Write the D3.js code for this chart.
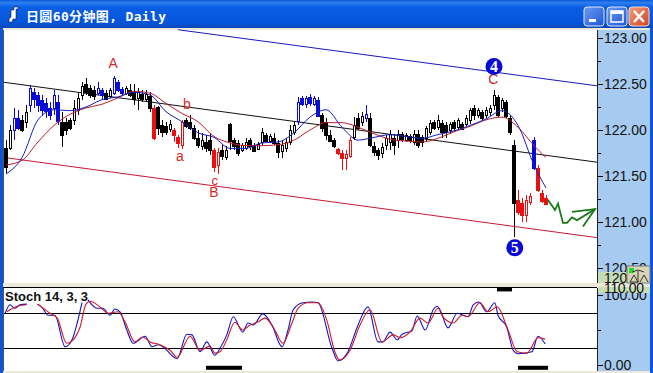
<!DOCTYPE html>
<html>
<head>
<meta charset="utf-8">
<script src="https://cdn.jsdelivr.net/npm/d3@7"></script>
<style>
html, body { margin: 0; padding: 0; background: #fff; overflow: hidden; }
svg { display: block; }
</style>
</head>
<body>
<svg id="chart" width="653" height="373"></svg>
<script>
const titleText = "日圆60分钟图, Daily";
const stochText = "Stoch 14, 3, 3";
const priceTicks = [123, 122.5, 122, 121.5, 121, 120.5];
const priceMinor = [122.75, 122.25, 121.75, 121.25, 120.75];
const stochTicks = [100, 0];
const stochLevels = [75, 25];

const highs = [121.89,122.05,122.24,122.22,122.16,122.27,122.49,122.46,122.41,122.38,
122.35,122.30,122.43,122.38,122.20,122.13,122.13,122.33,122.41,122.52,
122.57,122.49,122.48,122.52,122.46,122.43,122.46,122.59,122.54,122.47,
122.48,122.50,122.50,122.46,122.43,122.43,122.41,122.27,122.26,122.11,
122.09,122.11,122.02,121.95,122.11,122.13,122.16,122.05,122.00,121.97,
121.95,121.97,121.80,121.80,121.84,121.83,122.08,121.91,121.89,121.86,
121.91,121.91,121.86,121.87,122.02,121.97,121.96,121.97,121.89,121.89,
121.91,122.05,122.09,122.36,122.37,122.37,122.39,122.37,122.36,122.18,
122.13,122.00,121.91,121.80,121.78,121.78,121.92,122.14,122.18,122.20,
122.27,122.18,121.87,121.80,121.86,121.95,122.00,121.95,122.00,121.98,
121.97,121.96,122.00,122.00,121.95,122.04,122.11,122.11,122.16,122.11,
122.09,122.09,122.11,122.13,122.09,122.16,122.24,122.27,122.24,122.22,
122.25,122.27,122.43,122.38,122.35,122.33,122.16,121.89,121.35,121.26,
121.29,121.32,121.92,121.62,121.35,121.29];
const lows = [121.53,121.78,121.89,122.00,121.98,122.02,122.20,122.24,122.20,122.15,
122.13,122.11,122.16,122.05,121.82,121.95,122.00,122.05,122.16,122.33,
122.38,122.35,122.33,122.38,122.33,122.33,122.35,122.38,122.41,122.38,
122.38,122.36,122.27,122.22,122.30,122.30,122.20,121.89,121.95,121.92,
121.95,121.98,121.87,121.80,121.79,122.02,122.00,121.89,121.80,121.78,
121.76,121.73,121.54,121.52,121.67,121.67,121.78,121.78,121.72,121.76,
121.78,121.78,121.76,121.78,121.84,121.87,121.86,121.84,121.70,121.70,
121.76,121.84,121.95,122.05,122.26,122.24,122.26,122.26,122.14,121.98,
121.89,121.87,121.80,121.73,121.57,121.57,121.70,121.89,122.00,122.04,
122.09,121.82,121.72,121.67,121.70,121.78,121.78,121.73,121.80,121.87,
121.87,121.86,121.84,121.80,121.82,121.87,121.95,122.00,122.00,121.91,
121.91,121.96,121.98,122.00,122.00,122.04,122.07,122.11,122.13,122.11,
122.13,122.15,122.22,122.14,122.20,122.13,121.95,120.84,121.08,121.00,
121.00,121.18,121.57,121.33,121.21,121.18];
const opens = [121.80,121.80,122.00,122.13,122.11,122.09,122.27,122.41,122.38,122.33,
122.29,122.24,122.24,122.30,122.09,122.09,122.11,122.11,122.22,122.38,
122.50,122.46,122.43,122.41,122.43,122.40,122.37,122.41,122.52,122.45,
122.41,122.43,122.41,122.35,122.39,122.34,122.37,122.24,122.25,122.05,
122.04,122.02,122.00,121.92,121.84,122.11,122.09,122.02,121.91,121.83,
121.87,121.89,121.78,121.62,121.78,121.70,122.07,121.89,121.86,121.79,
121.80,121.89,121.84,121.80,121.87,121.95,121.88,121.91,121.86,121.78,
121.80,121.87,121.97,122.09,122.35,122.28,122.36,122.29,122.33,122.16,
122.09,121.95,121.89,121.79,121.75,121.70,121.72,121.92,122.13,122.09,
122.13,122.13,121.83,121.78,121.76,121.83,121.87,121.91,121.89,121.96,
121.90,121.93,121.87,121.96,121.92,121.91,121.98,122.09,122.03,122.08,
122.05,122.00,122.09,122.03,122.07,122.07,122.11,122.24,122.17,122.20,
122.17,122.20,122.27,122.36,122.24,122.30,122.13,121.84,121.24,121.21,
121.08,121.21,121.89,121.59,121.32,121.26];
const closes = [121.59,122.00,122.13,122.02,122.00,122.20,122.46,122.33,122.27,122.22,
122.20,122.16,122.38,122.09,121.95,122.00,122.02,122.24,122.35,122.48,
122.41,122.38,122.36,122.46,122.38,122.34,122.43,122.57,122.43,122.41,
122.46,122.38,122.33,122.41,122.34,122.39,122.24,121.91,122.02,121.97,
121.98,122.07,121.95,121.85,122.09,122.04,122.03,121.91,121.83,121.89,
121.80,121.78,121.59,121.76,121.71,121.78,121.89,121.83,121.75,121.84,
121.87,121.83,121.78,121.85,121.98,121.89,121.93,121.86,121.76,121.84,
121.87,122.00,122.05,122.30,122.29,122.35,122.30,122.35,122.16,122.02,
121.95,121.89,121.82,121.75,121.70,121.74,121.89,122.05,122.02,122.15,
122.17,121.84,121.76,121.73,121.82,121.91,121.96,121.83,121.96,121.91,
121.95,121.89,121.96,121.84,121.87,122.02,122.08,122.03,122.11,121.98,
121.97,122.07,122.02,122.11,122.02,122.13,122.22,122.16,122.22,122.14,
122.22,122.24,122.38,122.16,122.33,122.15,121.98,121.21,121.11,121.08,
121.24,121.28,121.59,121.35,121.23,121.20];
const blueBars = [2,3,6,7,8,9,10,11,12,13,23,24,27,28,29,73,74,75,76,77,78,90,132];
const redBars = [37,42,43,44,52,53,83,84,85,86,128,129,130,131,133,134,135];

// moving averages
const maBars = [0,4,8,12,16,20,24,28,32,36,40,44,48,52,56,60,64,68,72,76,80,84,88,92,96,100,104,108,112,116,120,124,128,132,135];
const blueMa = [121.52,121.70,122.11,122.22,122.21,122.25,122.33,122.36,122.41,122.38,122.20,122.09,121.97,121.92,121.80,121.80,121.86,121.87,121.97,122.14,122.22,122.03,121.89,121.92,121.95,121.93,121.91,121.95,121.99,122.05,122.12,122.21,122.05,121.62,121.37];
const redMa = [121.62,121.67,121.87,122.05,122.17,122.24,122.28,122.35,122.42,122.40,122.29,122.18,122.09,121.93,121.86,121.83,121.83,121.84,121.89,122.00,122.08,122.08,122.03,121.96,121.90,121.88,121.87,121.91,121.98,122.04,122.11,122.14,122.03,121.83,121.70];

// channel lines [bar, price, bar, price]
const blackChannel = [-0.75, 122.52, 147.75, 121.65];
const blueChannel = [43, 123.09, 147.75, 122.48];
const redChannel = [-0.25, 121.70, 147.75, 120.83];

const waveLabels = [
  { t: "A", bar: 26.8, p: 122.67, s: 14 }, { t: "a", bar: 43.5, p: 121.66, s: 14 },
  { t: "b", bar: 45.2, p: 122.23, s: 14 }, { t: "c", bar: 52.2, p: 121.40, s: 13 },
  { t: "B", bar: 52, p: 121.27, s: 14 }, { t: "C", bar: 121.8, p: 122.50, s: 14 }
];
const waveCircles = [{ t: "4", bar: 122, p: 122.69 }, { t: "5", bar: 127.2, p: 120.72 }];

const arrowPath = [[135.5,121.24],[137.25,121.13],[138,121.20],[139.25,120.99],[140.25,120.99],[141.5,121.05],[142.75,121.02],[147.25,121.14]];
const arrowHead = [[141.5,121.11],[147.25,121.14],[144.25,120.95]];

const stochK = [[-0.2,74],[1,86],[2.2,81],[3.5,86],[5.2,87],null,[7.8,87],[9.2,81],[10.5,71],[12.2,71],[14.8,26],[16.5,36],[17.8,60],[19,89],null,[20.5,93],[22.8,81],[24.2,81],[26,71],[27.2,80],[28.5,76],[30.2,50],[31.8,31],[34.8,41],[36.5,26],[38,29],[39.2,26],[42.8,9],[45.2,44],[46.5,43],[48.5,19],[50.2,33],[52.2,14],[53.5,24],[55.2,43],[56.8,69],[59.2,47],[60.5,60],[61.8,57],[64.2,73],[66.5,57],[69,26],[70.5,50],[71.8,79],[74.2,89],[76.5,90],[78,89],[81.5,24],[83,6],[85.5,19],[87.8,54],[90.5,83],[93,33],[94.2,33],[96,47],[97.8,36],[99,44],[101.5,49],[102.8,70],[104.8,50],[106.8,79],[107.8,84],[108.5,79],[110.5,53],[112.8,74],[115.5,69],[116.8,86],[118.2,90],[120.2,76],[122.2,89],[123,71],[125.2,54],[126.8,21],[128,16],[131.5,19],[133,41],[134.8,30]];
const stochD = [[0.2,76],[2.8,84],[5.2,86],null,[8,87],[11,74],[12.8,67],[15.2,31],[16.8,36],[18.5,54],[20,87],[21,91],[23.5,83],[25.5,74],[28,76],[29.8,61],[32.2,33],[34.2,40],[36,33],[38.5,29],[41,21],[42.8,11],[46,41],[48.5,21],[51,27],[52.2,17],[53.5,19],[55.2,36],[57.2,61],[59.2,50],[61,57],[62.8,61],[64.8,67],[67.2,50],[69.2,31],[71.5,60],[73,81],[75.5,89],[78,89],[80.2,64],[82.2,19],[83.5,7],[86,21],[88.5,57],[91,79],[94,33],[96.8,43],[98.5,39],[101,47],[103.5,67],[105.5,60],[108,81],[109.2,69],[111.8,60],[114,71],[115.5,69],[118.5,89],[120.5,76],[122.8,83],[125.5,50],[127.8,19],[130.2,17],[133,39],[134.8,37]];
// [first bar, last bar, stoch value] black marks in the indicator panel
const stochMarks = [[50,59,-4],[128,135.5,-4],[122.75,126.5,108]];

const svg = d3.select("#chart");
const W = 653, H = 373, plotRight = 597;

const x = d3.scaleLinear().domain([0, 135]).range([6, 546]);
const y = d3.scaleLinear().domain([123, 120.5]).range([38, 268]);
const yS = d3.scaleLinear().domain([100, 0]).range([295, 365]);

const defs = svg.append("defs");
const grad = defs.append("linearGradient").attr("id", "titleGrad").attr("x1", 0).attr("x2", 0).attr("y1", 0).attr("y2", 1);
[[0, "#0a5ad8"], [0.1, "#2f80ee"], [0.25, "#0b5fe4"], [0.8, "#0654da"], [1, "#0a48b8"]].forEach(d => grad.append("stop").attr("offset", d[0]).attr("stop-color", d[1]));
const btn = defs.append("linearGradient").attr("id", "btnGrad").attr("x1", 0).attr("x2", 1).attr("y1", 0).attr("y2", 1);
btn.append("stop").attr("offset", 0).attr("stop-color", "#6d9cf0");
btn.append("stop").attr("offset", 1).attr("stop-color", "#1c55d8");
const btnR = defs.append("linearGradient").attr("id", "btnRed").attr("x1", 0).attr("x2", 1).attr("y1", 0).attr("y2", 1);
btnR.append("stop").attr("offset", 0).attr("stop-color", "#f0a080");
btnR.append("stop").attr("offset", 1).attr("stop-color", "#d8401c");
defs.append("clipPath").attr("id", "mainClip").append("rect").attr("x", 4).attr("y", 29).attr("width", plotRight - 4).attr("height", 254);

// window frame
svg.append("rect").attr("width", W).attr("height", H).attr("fill", "#fff");
svg.append("rect").attr("width", W).attr("height", 28).attr("fill", "url(#titleGrad)");
svg.append("rect").attr("x", 0).attr("y", 28).attr("width", 3).attr("height", H - 28).attr("fill", "#0a55dc");
svg.append("rect").attr("x", 650).attr("y", 28).attr("width", 3).attr("height", H - 28).attr("fill", "#0a55dc");
svg.append("rect").attr("x", 3).attr("y", 28).attr("width", 647).attr("height", 2).attr("fill", "#ece9d8");
svg.append("rect").attr("x", 3).attr("y", 30).attr("width", 1).attr("height", 253).attr("fill", "#555");

// title bar
svg.append("path").attr("d", "M11 10h3v-3h4v2h-2v10h-3l-1 3h-3v-3l2-2v-7z").attr("fill", "#fff").attr("stroke", "#111").attr("stroke-width", 0.5);
svg.append("text").attr("x", 26).attr("y", 21).attr("fill", "#fff").attr("textLength", 140).style("font-family", "'DejaVu Sans Mono','Noto Sans CJK SC'").style("font-weight", 700).style("font-size", "13px").text(titleText);
[584, 607].forEach(bx => svg.append("rect").attr("x", bx).attr("y", 7).attr("width", 20).attr("height", 19).attr("rx", 3).attr("fill", "url(#btnGrad)").attr("stroke", "#dfe8fa"));
svg.append("rect").attr("x", 629).attr("y", 7).attr("width", 20).attr("height", 19).attr("rx", 3).attr("fill", "url(#btnRed)").attr("stroke", "#f5ddd4");
svg.append("rect").attr("x", 589).attr("y", 19).attr("width", 7).attr("height", 3).attr("fill", "#fff");
svg.append("rect").attr("x", 611).attr("y", 11).attr("width", 12).attr("height", 11).attr("fill", "none").attr("stroke", "#fff").attr("stroke-width", 1.5);
svg.append("rect").attr("x", 611).attr("y", 11).attr("width", 12).attr("height", 3).attr("fill", "#fff");
svg.append("path").attr("d", "M634 11l10 11M644 11l-10 11").attr("stroke", "#fff").attr("stroke-width", 2.5);

// axis strips
svg.append("rect").attr("x", plotRight).attr("y", 30).attr("width", 53).attr("height", 253).attr("fill", "#a6caf0");
svg.append("rect").attr("x", plotRight).attr("y", 288).attr("width", 53).attr("height", 83).attr("fill", "#a6caf0");
svg.append("line").attr("x1", plotRight + 0.5).attr("x2", plotRight + 0.5).attr("y1", 30).attr("y2", 283).attr("stroke", "#222");
svg.append("line").attr("x1", plotRight + 0.5).attr("x2", plotRight + 0.5).attr("y1", 288).attr("y2", 371).attr("stroke", "#222");

const main = svg.append("g").attr("clip-path", "url(#mainClip)");

function channel(c, color) {
  main.append("line").attr("x1", x(c[0])).attr("y1", y(c[1])).attr("x2", x(c[2])).attr("y2", y(c[3])).attr("stroke", color).attr("stroke-width", 1);
}
channel(blueChannel, "#1818c0");
channel(blackChannel, "#111");
channel(redChannel, "#c81830");

// candles, down bars filled and a bit wider than the hollow up bars
const bars = d3.range(highs.length);
const barColor = i => blueBars.includes(i) ? "#0a0ad8" : redBars.includes(i) ? "#e81010" : "#000";
const isUp = i => closes[i] > opens[i];
const candle = main.append("g").selectAll("g").data(bars).join("g").attr("shape-rendering", "crispEdges");
candle.append("line").attr("x1", i => Math.round(x(i)) + 0.5).attr("x2", i => Math.round(x(i)) + 0.5)
  .attr("y1", i => y(highs[i])).attr("y2", i => y(lows[i])).attr("stroke", barColor);
candle.append("rect").attr("x", i => Math.round(x(i)) - (isUp(i) ? 0.5 : 1.5)).attr("width", i => isUp(i) ? 2 : 3)
  .attr("y", i => Math.round(y(Math.max(opens[i], closes[i]))) + 0.5)
  .attr("height", i => Math.max(1, Math.round(Math.abs(y(opens[i]) - y(closes[i])))))
  .attr("fill", i => isUp(i) ? "#fff" : barColor(i)).attr("stroke", barColor);

// moving averages
const maLine = vals => d3.line().x((d, i) => x(maBars[i])).y(d => y(d)).curve(d3.curveMonotoneX)(vals);
main.append("path").attr("d", maLine(redMa)).attr("fill", "none").attr("stroke", "#c02030").attr("stroke-width", 1);
main.append("path").attr("d", maLine(blueMa)).attr("fill", "none").attr("stroke", "#1820c0").attr("stroke-width", 1);

// wave labels
main.selectAll(".wave").data(waveLabels).join("text").attr("class", "wave").attr("x", d => x(d.bar)).attr("y", d => y(d.p))
  .attr("text-anchor", "middle").attr("fill", "#d82828").style("font-family", "'Liberation Sans'").style("font-size", d => d.s + "px").text(d => d.t);
const circ = main.selectAll(".circ").data(waveCircles).join("g").attr("class", "circ").attr("transform", d => `translate(${x(d.bar)},${y(d.p)})`);
circ.append("circle").attr("r", 8.5).attr("fill", "#0808d8");
circ.append("text").attr("y", 5.5).attr("text-anchor", "middle").attr("fill", "#fff").style("font-family", "'Liberation Serif'").style("font-weight", 700).style("font-size", "16px").text(d => d.t);

// green forecast arrow
const arrowLine = d3.line().x(d => x(d[0])).y(d => y(d[1]));
main.append("path").attr("d", arrowLine(arrowPath)).attr("fill", "none").attr("stroke", "#1a7a1a").attr("stroke-width", 1.8);
main.append("path").attr("d", arrowLine(arrowHead)).attr("fill", "none").attr("stroke", "#1a7a1a").attr("stroke-width", 1.8);

// price axis
const axisFont = "'Liberation Sans'";
const priceAxis = d3.axisRight(y).tickValues(priceTicks).tickSize(5).tickPadding(1).tickFormat(d3.format(".2f"));
const pa = svg.append("g").attr("transform", `translate(${plotRight + 1},0)`).call(priceAxis);
pa.select(".domain").remove();
pa.selectAll("line").attr("stroke", "#000");
pa.selectAll("text").attr("fill", "#111").style("font-family", axisFont).style("font-size", "14px").style("font-weight", 400);
const paMinor = d3.axisRight(y).tickValues(priceMinor).tickSize(3).tickFormat("");
const pm = svg.append("g").attr("transform", `translate(${plotRight + 1},0)`).call(paMinor);
pm.select(".domain").remove();
pm.selectAll("line").attr("stroke", "#000");

// splitter
svg.append("rect").attr("x", 3).attr("y", 283).attr("width", 647).attr("height", 4).attr("fill", "#ece9d8");
svg.append("rect").attr("x", 3).attr("y", 371).attr("width", 647).attr("height", 2).attr("fill", "#ece9d8");
svg.append("line").attr("x1", 3).attr("x2", plotRight).attr("y1", 287.5).attr("y2", 287.5).attr("stroke", "#000");
svg.append("rect").attr("x", 3).attr("y", 288).attr("width", 1).attr("height", 83).attr("fill", "#555");

// crosshair value tags and toolbar icon
svg.append("rect").attr("x", 598).attr("y", 272).attr("width", 52).attr("height", 11).attr("fill", "#c4dcb8");
svg.append("text").attr("x", 604).attr("y", 283).attr("fill", "#111").style("font-family", axisFont).style("font-size", "14px").text("120");
svg.append("rect").attr("x", 627).attr("y", 266).attr("width", 23).attr("height", 17).attr("fill", "#d8d4b8").attr("stroke", "#777");
svg.append("rect").attr("x", 629).attr("y", 268).attr("width", 5).attr("height", 5).attr("fill", "#20e020");
svg.append("path").attr("d", "M630 282l4-7 4 7zM640 282l4-7 4 7M638 271v11M632 272l6-2 6 2").attr("fill", "none").attr("stroke", "#333");

// stochastic panel
svg.selectAll(".lvl").data(stochLevels).join("line").attr("class", "lvl").attr("x1", 4).attr("x2", plotRight)
  .attr("y1", d => Math.round(yS(d)) + 0.5).attr("y2", d => Math.round(yS(d)) + 0.5).attr("stroke", "#000");
const stochLine = d3.line().defined(d => d !== null).x(d => x(d[0])).y(d => yS(d[1])).curve(d3.curveMonotoneX);
svg.append("path").attr("d", stochLine(stochK)).attr("fill", "none").attr("stroke", "#1414c8").attr("stroke-width", 1.1);
svg.append("path").attr("d", stochLine(stochD)).attr("fill", "none").attr("stroke", "#d01828").attr("stroke-width", 1.1);
svg.selectAll(".mark").data(stochMarks).join("rect").attr("class", "mark").attr("x", d => x(d[0])).attr("width", d => x(d[1]) - x(d[0]))
  .attr("y", d => yS(d[2]) - 2).attr("height", 4).attr("fill", "#000");
svg.append("text").attr("x", 5).attr("y", 301).attr("fill", "#111").style("font-family", axisFont).style("font-weight", 700).style("font-size", "13px").text(stochText);

const stochAxis = d3.axisRight(yS).tickValues(stochTicks).tickSize(5).tickPadding(1).tickFormat(d3.format(".2f"));
const sa = svg.append("g").attr("transform", `translate(${plotRight + 1},0)`).call(stochAxis);
sa.select(".domain").remove();
sa.selectAll("line").attr("stroke", "#000");
sa.selectAll("text").attr("fill", "#111").style("font-family", axisFont).style("font-size", "14px");
svg.append("line").attr("x1", plotRight + 1).attr("x2", plotRight + 4).attr("y1", yS(50) + 0.5).attr("y2", yS(50) + 0.5).attr("stroke", "#000");
svg.append("rect").attr("x", 598).attr("y", 287).attr("width", 52).attr("height", 6).attr("fill", "#c4dcb8");
svg.append("text").attr("x", 604).attr("y", 293).attr("fill", "#111").attr("textLength", 40).style("font-family", axisFont).style("font-size", "14px").text("110.00");
</script>
</body>
</html>
